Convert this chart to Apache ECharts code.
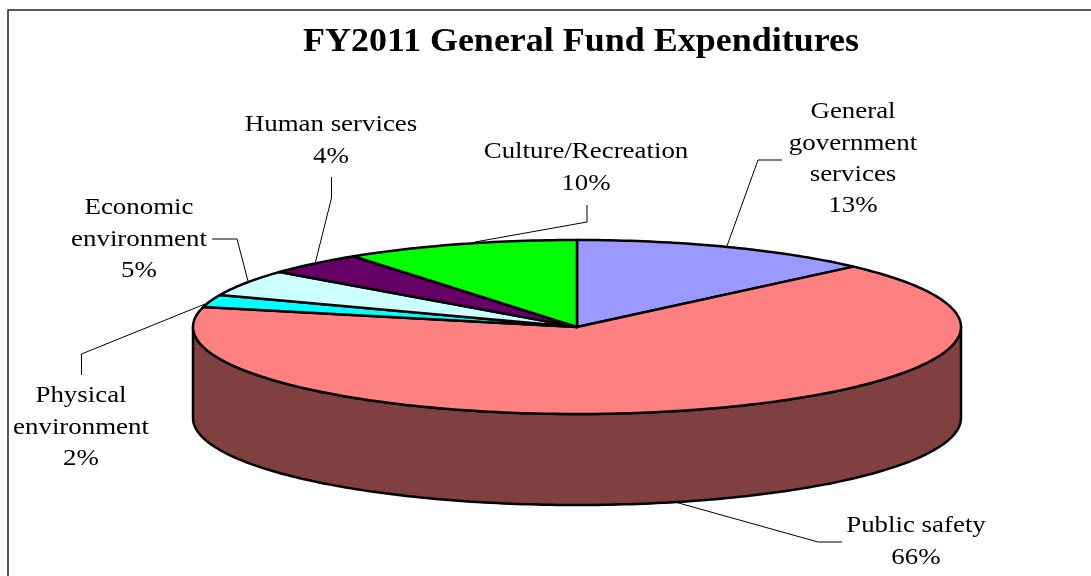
<!DOCTYPE html>
<html>
<head>
<meta charset="utf-8">
<title>FY2011 General Fund Expenditures</title>
<script src="https://cdn.jsdelivr.net/npm/echarts@6/dist/echarts.min.js"></script>
<style>
html, body { margin: 0; padding: 0; background: #fff; }
#main { width: 1091px; height: 576px; }
</style>
</head>
<body>
<div id="main"></div>
<script>
var chartTitle = 'FY2011 General Fund Expenditures';
var categories = ['General government services', 'Public safety', 'Physical environment', 'Economic environment', 'Human services', 'Culture/Recreation'];
// 份额, 标签显示取整
var shares = [12.8, 65.9, 2.3, 4.9, 4.2, 9.9];

var topColors = ['#9999FF', '#FF8080', '#00FFFF', '#CCFFFF', '#660066', '#00FF00'];
var wallColors = ['#4C4C80', '#804040', '#008080', '#668080', '#330033', '#008000'];

// 标签位置: 每行文字 + 中心点 + 引线
var labelLayout = [
    { lines: ['General', 'government', 'services'], x: 853, y: 112, leader: [[782, 160], [758, 160], [727, 246]] },
    { lines: ['Public safety'], x: 916, y: 526, leader: [[842, 542], [818, 542], [675, 502]] },
    { lines: ['Physical', 'environment'], x: 81, y: 396, leader: [[81.5, 375], [81.5, 354], [205, 304]] },
    { lines: ['Economic', 'environment'], x: 139, y: 208, leader: [[212, 239], [237, 239], [248, 281]] },
    { lines: ['Human services'], x: 331, y: 125, leader: [[331.5, 177], [331.5, 198], [315, 264]] },
    { lines: ['Culture/Recreation'], x: 586, y: 152, leader: [[587, 205], [587, 222], [475, 242]] }
];

var cx = 577, cy = 327, rx = 384, ry = 87, depth = 91;
var lineGap = 31.4;
var serif = '"Liberation Serif", "Times New Roman", serif';

var total = shares.reduce(function (a, b) { return a + b; }, 0);

// 顺时针角度(从正上方起) -> 椭圆上的点
function rimPoint(deg, drop) {
    var r = deg * Math.PI / 180;
    return [cx + rx * Math.sin(r), cy - ry * Math.cos(r) + (drop || 0)];
}

function arcPoints(from, to, drop) {
    var pts = [];
    for (var d = from; d < to; d += 1) {
        pts.push(rimPoint(d, drop));
    }
    pts.push(rimPoint(to, drop));
    return pts;
}

function renderSlice(params, api) {
    var i = params.dataIndex;
    var start = api.value(1), end = api.value(2);
    var children = [];

    // 侧面只画朝前的部分(90-270度)
    var wFrom = Math.max(start, 90), wTo = Math.min(end, 270);
    if (wFrom < wTo) {
        children.push({
            type: 'polygon',
            shape: { points: arcPoints(wFrom, wTo, 0).concat(arcPoints(wFrom, wTo, depth).reverse()) },
            style: { fill: wallColors[i], stroke: '#000', lineWidth: 2.5, lineJoin: 'round' }
        });
    }
    children.push({
        type: 'polygon',
        shape: { points: [[cx, cy]].concat(arcPoints(start, end, 0)) },
        style: { fill: topColors[i], stroke: '#000', lineWidth: 2.5, lineJoin: 'round' }
    });

    var lay = labelLayout[i];
    children.push({
        type: 'polyline',
        shape: { points: lay.leader },
        style: { fill: null, stroke: '#000', lineWidth: 1 }
    });
    lay.lines.concat([Math.round(api.value(0)) + '%']).forEach(function (t, n) {
        children.push({
            type: 'text',
            x: lay.x,
            y: lay.y + n * lineGap,
            scaleX: 1.12,
            style: { text: t, font: '24px ' + serif, fill: '#000', align: 'center', verticalAlign: 'middle' }
        });
    });
    return { type: 'group', children: children };
}

var acc = 0;
var sliceData = shares.map(function (v, i) {
    var a = acc / total * 360;
    acc += v;
    return { name: categories[i], value: [v, a, acc / total * 360] };
});

var myChart = echarts.init(document.getElementById('main'), null, { renderer: 'canvas' });
myChart.setOption({
    animation: false,
    backgroundColor: '#fff',
    tooltip: { show: false },
    graphic: [
        { type: 'polyline', shape: { points: [[8, 576], [8, 10], [1091, 10]] }, style: { fill: null, stroke: '#222', lineWidth: 1.5 }, silent: true },
        {
            type: 'text', x: 581, y: 42, scaleX: 1.09,
            style: { text: chartTitle, font: 'bold 33px ' + serif, fill: '#000', align: 'center', verticalAlign: 'middle' },
            silent: true
        }
    ],
    series: [{
        type: 'custom',
        coordinateSystem: 'none',
        silent: true,
        renderItem: renderSlice,
        data: sliceData
    }]
});
</script>
</body>
</html>
